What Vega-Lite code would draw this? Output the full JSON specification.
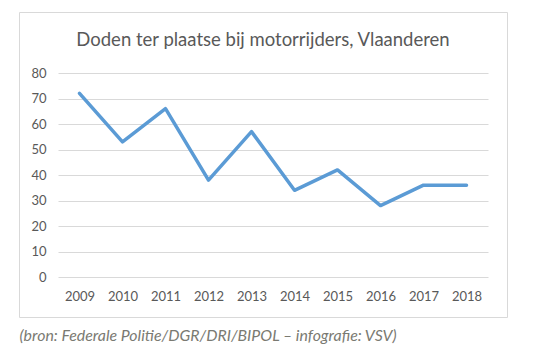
{
  "$schema": "https://vega.github.io/schema/vega-lite/v6.json",
  "autosize": "none",
  "width": 488,
  "height": 305,
  "padding": {"left": 19, "top": 12, "right": 48, "bottom": 36},
  "background": "white",
  "config": {
    "view": {"stroke": "#d9d9d9", "strokeWidth": 1},
    "font": "Lato"
  },
  "title": {
    "text": "Doden ter plaatse bij motorrijders, Vlaanderen",
    "anchor": "middle",
    "orient": "top",
    "baseline": "alphabetic",
    "offset": -33,
    "dy": 19,
    "font": "Lato",
    "fontSize": 18.5,
    "fontWeight": "normal",
    "color": "#595959"
  },
  "data": {
    "values": [
      {"jaar": "2009", "doden": 72},
      {"jaar": "2010", "doden": 53},
      {"jaar": "2011", "doden": 66},
      {"jaar": "2012", "doden": 38},
      {"jaar": "2013", "doden": 57},
      {"jaar": "2014", "doden": 34},
      {"jaar": "2015", "doden": 42},
      {"jaar": "2016", "doden": 28},
      {"jaar": "2017", "doden": 36},
      {"jaar": "2018", "doden": 36}
    ]
  },
  "mark": {"type": "line", "color": "#5b9bd5", "strokeWidth": 3.5, "strokeJoin": "round", "strokeCap": "round"},
  "encoding": {
    "x": {
      "field": "jaar",
      "type": "ordinal",
      "scale": {"type": "point", "range": [39, 469], "padding": 0.5},
      "axis": {
        "title": "(bron: Federale Politie/DGR/DRI/BIPOL – infografie: VSV)",
        "titleFont": "Lato",
        "titleFontStyle": "italic",
        "titleFontWeight": "normal",
        "titleFontSize": 15.9,
        "titleColor": "#7a7a72",
        "titleAlign": "left",
        "titleAnchor": "start",
        "titleBaseline": "middle",
        "titleX": 0,
        "titleY": 58,
        "offset": -40,
        "domain": false,
        "ticks": false,
        "grid": false,
        "labelAngle": 0,
        "labelPadding": 13,
        "labelFontSize": 13,
        "labelColor": "#595959"
      }
    },
    "y": {
      "field": "doden",
      "type": "quantitative",
      "scale": {"domain": [0, 80], "range": [265, 61], "nice": false, "zero": true},
      "axis": {
        "title": null,
        "values": [0, 10, 20, 30, 40, 50, 60, 70, 80],
        "offset": -39,
        "domain": false,
        "ticks": false,
        "grid": true,
        "gridColor": "#d9d9d9",
        "gridWidth": 1,
        "labelPadding": 12,
        "labelFontSize": 13,
        "labelColor": "#595959"
      }
    }
  }
}
